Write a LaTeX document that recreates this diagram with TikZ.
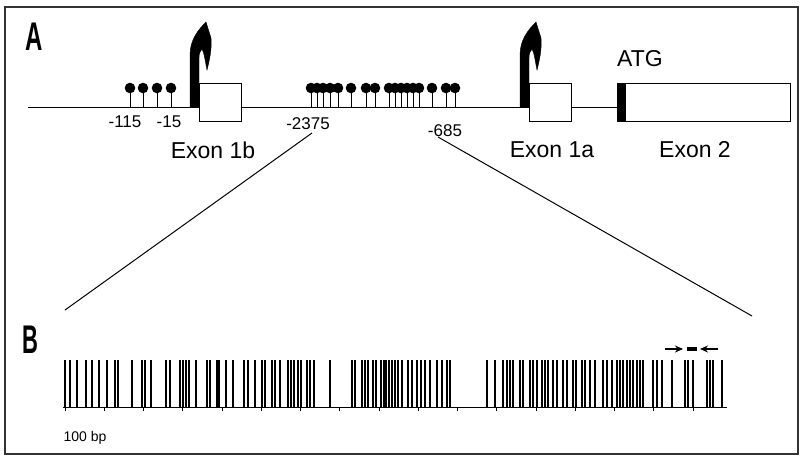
\documentclass[tikz,border=0pt]{standalone}
\usepackage{fontspec}
\setmainfont{Liberation Sans}
\usetikzlibrary{arrows.meta}
\tikzset{
  exonbox/.style={draw, fill=white, line width=1pt, inner sep=0pt, anchor=north west},
  lbl/.style={inner sep=0pt, font=\fontsize{17}{19}\selectfont},
  exlbl/.style={inner sep=0pt, font=\fontsize{23}{25}\selectfont},
  panel/.style={inner sep=0pt, font=\fontsize{40}{42}\selectfont\bfseries},
  lolli/.style={line width=0.9pt},
  cpg/.style={line width=1.1pt},
  promoter/.style={fill=black, draw=black, line width=0.4pt},
}
\newcommand{\promoterat}[1]{%
  \fill[promoter, shift={(#1,0)}] (0,107) -- (0,55) .. controls (0,40) and (8,30) .. (16,22)
   -- (21,38) .. controls (22,50) and (19,62) .. (17,70)
   .. controls (15,60) and (14,52) .. (12,49) .. controls (10,51) and (9,54) .. (9,58)
   -- (9,107) -- cycle;}
\begin{document}
\begin{tikzpicture}[x=1pt,y=-1pt]
\useasboundingbox (0,0) rectangle (801,456);
\fill[white] (0,0) rectangle (801,456);
\draw[line width=2.5pt, draw=black!80] (5,7) rectangle (798,454);
% panel labels
\node[panel] (pA) at (34,37) {\scalebox{0.6}[1]{A}};
\node[panel] (pB) at (30,340) {\scalebox{0.55}[1]{B}};
% main line
\draw[line width=1pt] (28,107) -- (617,107);
% lollipops
\foreach \x in {130,143,157,171,311,317,323,330,338,351,366,375,389,395,401,407,413,419,432,446,455}{
  \draw[lolli] (\x,107) -- (\x,88);
  \fill (\x,88) circle (5.3);
}
% promoters
\promoterat{190}
\promoterat{520}
% exon boxes
\node[exonbox, minimum width=42pt, minimum height=38pt] (e1b) at (199,83) {};
\node[exonbox, minimum width=42pt, minimum height=38pt] (e1a) at (529,83) {};
\node[exonbox, minimum width=173pt, minimum height=38pt] (e2) at (617,83) {};
\fill (617,83) rectangle (626,121);
% labels
\node[lbl] (l115) at (125,122) {-115};
\node[lbl] (l15) at (169,122) {-15};
\node[lbl] (l2375) at (308,124) {-2375};
\node[lbl] (l685) at (445,131) {-685};
\node[exlbl] (t1b) at (213,150) {Exon 1b};
\node[exlbl] (t1a) at (552,150) {Exon 1a};
\node[exlbl] (t2) at (695,150) {Exon 2};
\node[exlbl] (tatg) at (640,59) {ATG};
% zoom lines
\coordinate (zl) at (65,310);
\coordinate (zr) at (752,316);
\draw[line width=1pt] (312,133) -- (zl);
\draw[line width=1pt] (438,137) -- (zr);
% barcode
\draw[line width=1pt] (63,407) -- (727,407);
\foreach \k in {0,...,16}{
  \draw[line width=0.8pt] ({65+39.25*\k},407) -- ({65+39.25*\k},411);
}
\foreach \x in {65,70,77,86,92,99,107,115,118,132,142,145,151,166,170,180,183,186,189,196,
  207,210,217,219,226,233,244,248,255,262,265,272,275,280,288,291,294,298,301,307,310,314,
  330,352,355,362,365,368,373,376,381,384,386,389,392,395,398,402,408,412,417,421,425,430,
  437,442,447,450,487,495,503,507,510,513,520,523,530,533,537,542,545,548,553,557,563,567,
  573,576,582,585,590,595,603,607,612,617,620,623,627,630,633,637,640,643,653,657,662,672,
  685,688,693,707,710,713,722}{
  \draw[cpg] (\x,360) -- (\x,407);
}
% primers
\coordinate (p1s) at (665,349); \coordinate (p1e) at (683,349);
\coordinate (p2s) at (718,349); \coordinate (p2e) at (700,349);
\draw[line width=1.2pt, -{Stealth[length=8pt,width=7pt]}] (p1s) -- (p1e);
\draw[line width=1.2pt, -{Stealth[length=8pt,width=7pt]}] (p2s) -- (p2e);
\fill (687,347.3) rectangle (697,350.7);
\node[inner sep=0pt, font=\fontsize{14}{16}\selectfont] (bp) at (85,438) {100 bp};
\end{tikzpicture}
\end{document}
